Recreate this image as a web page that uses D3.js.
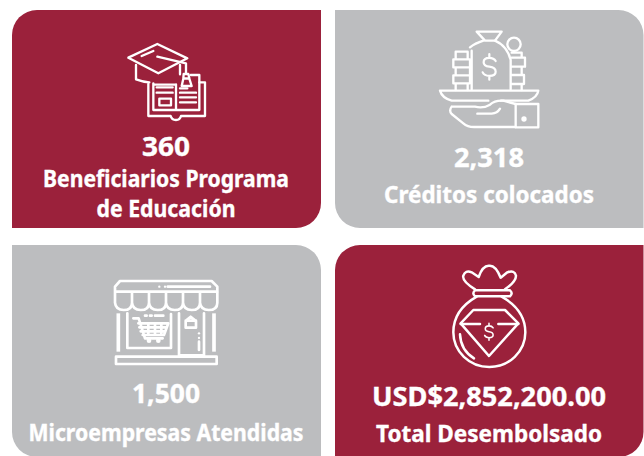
<!DOCTYPE html>
<html><head><meta charset="utf-8">
<style>html,body{margin:0;padding:0;background:#fff}svg{display:block}</style>
<script src="https://cdn.jsdelivr.net/npm/d3@7"></script></head>
<body><svg id="c" width="644" height="456"></svg>
<script>
// DATA
const values = ["360", "2,318", "1,500", "USD$2,852,200.00"];
const captions = [["Beneficiarios Programa", "de Educación"], ["Créditos colocados"], ["Microempresas Atendidas"], ["Total Desembolsado"]];
const tones = ["red", "grey", "grey", "red"];
const columns = [0, 1, 0, 1];

// LAYOUT
const W = 644, H = 456, RED = "#9b213b", GREY = "#bcbdbf", R = 25;
const xLeft = [12, 335], xRight = [321, 643.5];
const rowY = [[10, 228], [245, 457]];
const cornerSets = [[1,0,1,0],[0,1,0,1],[0,1,0,1],[1,0,1,0]]; // tl,tr,br,bl
const valueBase = [156, 167, 403, 406];
const capBase = [[187, 217], [203], [441], [442]];
const valueWidth = [48, 70, 68, 234];
const capWidth = [[246, 139], [210], [275], [226]];
const centers = [166, 489, 166, 489];
const strokeW = [7, 7, 8, 7.5];

const iconOffset = [[100,20],[420,10],[100,270],[430,255]];
const dollar = "M20,-18 Q14,-28 0,-28 Q-18,-28 -18,-14 Q-18,-2 0,0 Q20,2 20,16 Q20,29 0,29 Q-16,29 -21,18 M0,-40 V-28 M0,29 V41";
const icons = [
 [
  "M85,113 L172,72 L262,115 L175,160 Z",
  "M125,108 L160,93",
  "M108,135 V178 Q130,186 148,187 M240,135 V163",
  "M172,110 L258,130 V158",
  "M251,162 L265,162 L268,175 L250,175 Z M250,176 L268,176 L275,198 L245,198 Z",
  "M160,190 V270 H298 V165 H272 M228,193 V270 M160,194 H228",
  "M145,192 V288 H212 Q215,300 228,300 Q240,300 243,288 H315 V187 H298",
  "M170,202 H218 M170,218 H218 M240,218 H288 M240,232 H288 M240,247 H288 M240,205 H262",
  "M178,236 H213 V256 H178 Z"
 ],
 [
  "M170,65 H245 L225,92 H195 Z",
  "M150,112 Q165,100 190,92 M225,92 Q262,108 272,150 V238 M155,122 V238",
  "M107,125 H143 V148 H107 Z M100,148 H150 V172 H100 Z M107,172 H150 V196 H107 Z M100,196 H150 V220 H100 Z M107,220 V240 M143,220 V240",
  "M275,128 H305 V143 M275,143 H315 V170 H275 M305,170 V195 H275 M275,195 H312 V222 H275 M305,222 V240",
  "M60,242 H355 Q352,262 325,272 H243 M60,242 Q66,264 95,272 H205",
  "M95,290 Q86,302 95,312 L130,340 Q142,351 162,351 H287 M95,290 H165 Q190,296 210,284 Q225,270 250,272 L287,282 M172,311 H215 Q232,310 240,296",
  "M287,282 H355 V352 H287 Z"
 ],
 [
  "M45,65 V50 L60,33 H335 L352,50 V65 Z",
  "M203,50 H330",
  "M45,68 V98 Q47,120 71,120 Q96,120 96,98 V68 M96,98 Q98,120 122,120 Q147,120 147,98 V68 M147,98 Q149,120 173,120 Q198,120 198,98 V68 M198,98 Q200,120 224,120 Q249,120 249,98 V68 M249,98 Q251,120 275,120 Q300,120 300,98 V68 M300,98 Q302,120 326,120 Q352,120 352,98 V68",
  "M82,130 V234 H213 V132 M237,130 V258 M312,130 V258 M237,256 H312",
  "M100,145 H116 L135,205 H188 M115,160 H205 L192,195 H128 M118,172 H200 M122,184 H196 M145,160 V195 M165,160 V195 M184,160 V195",
  "M272,140 L287,152 H257 Z M257,152 H288 V173 H257 Z",
  "M297,215 V240 M135,137 H140 M150,137 H155 M165,137 H190",
  "M48,260 H350 V282 H48 Z"
 ],
 [
  "M135,103 Q95,78 100,62 Q106,44 125,52 L146,66 Q158,30 178,32 Q197,30 212,68 L232,52 Q254,44 258,62 Q258,80 225,103",
  "M135,106 H240 Q250,115 240,124 H135 Q125,115 135,106 Z",
  "M140,125 Q70,165 70,232 A108,104 0 0 0 286,232 Q286,165 215,125",
  "M130,165 H225 L265,205 L177,303 L92,205 Z",
  "M92,207 H150 M205,207 H265",
  "M90,238 Q92,285 132,310"
 ]
];
const iconFills = [
 [], [[312,327,8]],
 [[178,50,3.5],[195,50,3.5],[147,212,7],[175,212,7],[297,190,3.5],[297,204,3.5]],
 []
];
const iconDollars = [[], [[208,170,0.95]], [], [[177,230,0.62]]];
const heavy = [[], [], [[55,130,55,245],[342,130,342,245]], []];

const x0 = d3.scaleOrdinal().domain([0,1]).range(xLeft);
const x1 = d3.scaleOrdinal().domain([0,1]).range(xRight);
const rows = [0,0,1,1];

function panel(x0,y0,x1,y1,c){
  const p = d3.path(), [tl,tr,br,bl] = c.map(v=>v*R);
  p.moveTo(x0+tl,y0); p.lineTo(x1-tr,y0);
  if(tr) p.arcTo(x1,y0,x1,y0+tr,tr);
  p.lineTo(x1,y1-br);
  if(br) p.arcTo(x1,y1,x1-br,y1,br);
  p.lineTo(x0+bl,y1);
  if(bl) p.arcTo(x0,y1,x0,y1-bl,bl);
  p.lineTo(x0,y0+tl);
  if(tl) p.arcTo(x0,y0,x0+tl,y0,tl);
  p.closePath();
  return p.toString();
}

const svg = d3.select("#c");
const FONT = "'Noto Sans', sans-serif";
const g = svg.selectAll("g.card").data(values).join("g").attr("class","card");

g.append("path")
 .attr("d",(d,i)=>panel(x0(columns[i]),rowY[rows[i]][0],x1(columns[i]),rowY[rows[i]][1],cornerSets[i]))
 .attr("fill",(d,i)=>tones[i]==="red"?RED:GREY);

const ic = g.append("g").attr("transform",(d,i)=>`translate(${iconOffset[i][0]},${iconOffset[i][1]}) scale(${1/3})`)
  .attr("fill","none").attr("stroke","#fff").attr("stroke-width",(d,i)=>strokeW[i]).attr("stroke-linejoin","round").attr("stroke-linecap","round");
ic.each(function(d,i){
  const s = d3.select(this);
  s.selectAll("path.l").data(icons[i]).join("path").attr("class","l").attr("d",e=>e);
  s.selectAll("circle.f").data(iconFills[i]).join("circle").attr("class","f")
    .attr("cx",e=>e[0]).attr("cy",e=>e[1]).attr("r",e=>e[2]).attr("fill","#fff").attr("stroke","none");
  s.selectAll("path.d").data(iconDollars[i]).join("path").attr("class","d").attr("d",dollar)
    .attr("transform",e=>`translate(${e[0]},${e[1]}) scale(${e[2]})`);
  s.selectAll("line.h").data(heavy[i]).join("line").attr("class","h")
    .attr("x1",e=>e[0]).attr("y1",e=>e[1]).attr("x2",e=>e[2]).attr("y2",e=>e[3]).attr("stroke-width",11).attr("stroke-linecap","butt");
});
d3.select(g.nodes()[1]).select("g").append("circle").attr("cx",282).attr("cy",103).attr("r",20);

g.append("text").text(d=>d)
 .attr("x",(d,i)=>centers[i]).attr("y",(d,i)=>valueBase[i])
 .attr("text-anchor","middle").attr("fill","#fff").attr("stroke","#fff").attr("stroke-width",0.35)
 .attr("font-family",FONT).attr("font-weight",700).attr("font-size",26)
 .attr("textLength",(d,i)=>valueWidth[i]).attr("lengthAdjust","spacingAndGlyphs");

g.each(function(d,i){
  d3.select(this).selectAll("text.cap").data(captions[i]).join("text").attr("class","cap")
   .text(e=>e)
   .attr("x",centers[i]).attr("y",(e,j)=>capBase[i][j])
   .attr("text-anchor","middle").attr("fill","#fff").attr("stroke","#fff").attr("stroke-width",0.35)
   .attr("font-family",FONT).attr("font-weight",700).attr("font-size",23)
   .attr("textLength",(e,j)=>capWidth[i][j]).attr("lengthAdjust","spacingAndGlyphs");
});
</script></body></html>
